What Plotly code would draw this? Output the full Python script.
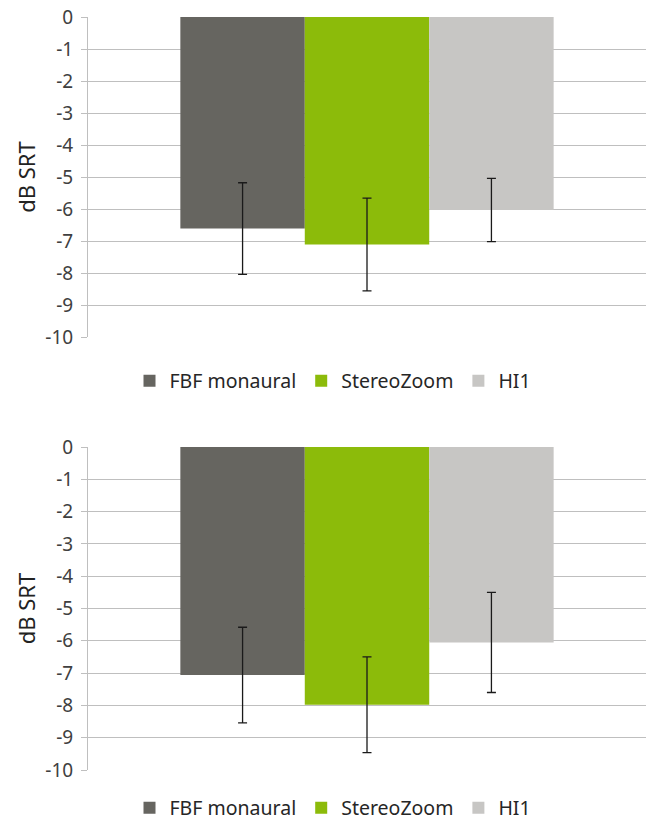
import plotly.graph_objects as go

categories = ["FBF monaural", "StereoZoom", "HI1"]
colors = ["#666560", "#8cbb0a", "#c7c6c4"]

top_values = [-6.61, -7.11, -6.03]
top_errors = [1.43, 1.45, 0.99]
bottom_values = [-7.06, -7.98, -6.05]
bottom_errors = [1.48, 1.48, 1.55]

tick_vals = [0, -1, -2, -3, -4, -5, -6, -7, -8, -9, -10]
tick_text = ["0", "-1", "-2", "-3", "-4", "-5", "-6", "-7", "-8", "-9", "-10"]

FONT = "Noto Sans"
W, H = 646, 820
L = 88

fig = go.Figure()
for i, name in enumerate(categories):
    fig.add_trace(go.Bar(
        x=[""], y=[top_values[i]], name=name, marker_color=colors[i],
        marker_line_width=0,
        error_y=dict(type="data", array=[top_errors[i]], color="#1a1a1a", thickness=1.3, width=4.5),
        xaxis="x", yaxis="y", legend="legend", offsetgroup=str(i),
    ))
for i, name in enumerate(categories):
    fig.add_trace(go.Bar(
        x=[""], y=[bottom_values[i]], name=name, marker_color=colors[i],
        marker_line_width=0,
        error_y=dict(type="data", array=[bottom_errors[i]], color="#1a1a1a", thickness=1.3, width=4.5),
        xaxis="x2", yaxis="y2", legend="legend2", offsetgroup=str(i),
    ))

yax = dict(
    range=[-10, 0], tickvals=tick_vals, ticktext=tick_text,
    showgrid=True, gridcolor="#bfbfbf", gridwidth=1,
    showline=True, linecolor="#bfbfbf", linewidth=1,
    ticks="outside", ticklen=6, tickcolor="#bfbfbf",
    ticklabelstandoff=4,
    tickfont=dict(family=FONT, size=19, color="#404040"),
    title=dict(text="dB SRT", font=dict(family=FONT, size=22, color="#222222"), standoff=3),
    zeroline=False, fixedrange=True, automargin=False,
)
xax = dict(showticklabels=False, showgrid=False, zeroline=False, showline=False, ticks="",
           automargin=False, fixedrange=True)

top_dom = [1 - 337 / H, 1 - 17 / H]
bot_dom = [1 - 770 / H, 1 - 447 / H]
leg_x = (333 - L) / (W - L)

fig.update_layout(
    width=W, height=H,
    margin=dict(l=L, r=0, t=0, b=0, autoexpand=False),
    paper_bgcolor="white", plot_bgcolor="white",
    barmode="group", bargap=0.331, bargroupgap=0,
    xaxis=dict(**xax, anchor="y"),
    xaxis2=dict(**xax, anchor="y2"),
    yaxis=dict(**yax, domain=top_dom, anchor="x"),
    yaxis2=dict(**yax, domain=bot_dom, anchor="x2"),
    legend=dict(orientation="h", x=leg_x, xanchor="center",
                y=1 - 381 / H, yanchor="middle",
                font=dict(family=FONT, size=19.5, color="#262626"), traceorder="normal"),
    legend2=dict(orientation="h", x=leg_x, xanchor="center",
                 y=1 - 808 / H, yanchor="middle",
                 font=dict(family=FONT, size=19.5, color="#262626"), traceorder="normal"),
    showlegend=True,
)

fig.write_html("out.html", config={"displayModeBar": False},
               post_script="document.body.style.margin='0';document.body.style.overflow='hidden';")
